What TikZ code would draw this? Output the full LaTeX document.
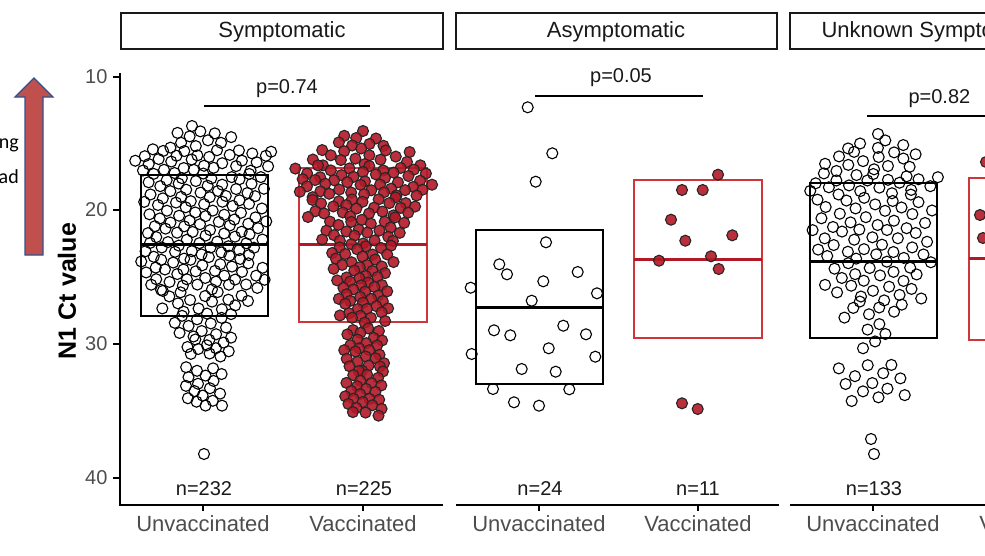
\documentclass[tikz,border=0pt]{standalone}
\usepackage{fontspec}
\setmainfont{Liberation Sans}
\newfontfamily\calibri{Carlito}
\usetikzlibrary{positioning,calc,arrows.meta}

\definecolor{vacred}{RGB}{178,24,38}
\definecolor{boxred}{RGB}{205,55,60}
\definecolor{axgray}{RGB}{77,77,77}
\definecolor{arrfill}{RGB}{192,80,77}
\definecolor{arredge}{RGB}{47,82,143}

\tikzset{
	opendot/.style={draw=black, line width=1.1pt},
	reddot/.style={draw=black!85, fill=vacred, fill opacity=0.9, line width=1.1pt},
	boxblack/.style={draw=black, line width=1.3pt},
	boxred/.style={draw=boxred, line width=1.3pt},
	medblack/.style={draw=black, line width=3pt},
	medred/.style={draw=vacred, line width=3pt},
	strip/.style={draw=black!90, line width=1.4pt},
	axline/.style={draw=black, line width=1.4pt},
	ticklab/.style={text=axgray, font=\fontsize{20}{24}\selectfont},
	catlab/.style={text=axgray, font=\fontsize{22}{26}\selectfont},
	striplab/.style={text=black!90, font=\fontsize{22}{26}\selectfont},
	nlab/.style={text=black!90, font=\fontsize{20}{24}\selectfont},
}

% spread points in horizontal bands: centre x, style, y0/y1/halfwidth/count
\newcommand\swarm[3]{%
	\foreach \ya/\yb/\hw/\cnt in {#3}{
		\pgfmathsetmacro\ph{rnd}
		\foreach \k in {1,...,\cnt}{
			\pgfmathsetmacro\px{#1+\hw*(2*mod(\k*0.618034+\ph,1)-1)+(rnd-0.5)*4}
			\pgfmathsetmacro\py{\ya+(\k-0.5)/\cnt*(\yb-\ya)+(rnd-0.5)*3}
			\draw[#2] (\px,\py) circle[radius=5.5pt];
		}
	}
}

\begin{document}
\begin{tikzpicture}[x=1pt, y=-1pt]
	\useasboundingbox (0,0) rectangle (985,555);
	\clip (0,0) rectangle (985,555);
	\pgfmathsetseed{17}

	% left annotation
	\draw[arredge, fill=arrfill, line width=1.2pt]
		(25,255) -- (43,255) -- (43,97) -- (53,97) -- (34,78) -- (15,97) -- (25,97) -- cycle;
	\node[anchor=east, inner sep=0pt, font=\calibri\fontsize{20}{24}\selectfont] (ngtxt) at (19,145) {ng};
	\node[anchor=east, inner sep=0pt, font=\calibri\fontsize{20}{24}\selectfont] (adtxt) at (19,177) {ad};

	% strips
	\draw[strip] (121,13) rectangle (443,49);
	\draw[strip] (456,13) rectangle (777,49);
	\draw[strip] (790,13) rectangle (995,49);
	\node[striplab] (stripSym) at (282,32) {Symptomatic};
	\node[striplab] (stripAsym) at (616,32) {Asymptomatic};
	\node[striplab, anchor=west] (stripUnk) at (818,32) {Unknown Symptoms};

	% y axis
	\draw[axline] (120,73) -- (120,505);
	\foreach \v/\yy in {10/77, 20/210, 30/344, 40/478}{
		\draw[axline] (113,\yy) -- (120,\yy);
		\node[ticklab, anchor=east] (ytick\v) at (111,\yy) {\v};
	}
	\node[rotate=90, font=\bfseries\fontsize{25}{30}\selectfont] (ylab) at (67,291) {N1 Ct value};

	% x axes
	\draw[axline] (119.3,505) -- (443,505);
	\draw[axline] (456,505) -- (779,505);
	\draw[axline] (790,505) -- (990,505);
	\foreach \xx/\lab/\nm in {203/Unvaccinated/a, 363/Vaccinated/b, 539/Unvaccinated/c,
			698/Vaccinated/d, 873/Unvaccinated/e, 1033/Vaccinated/f}{
		\draw[axline] (\xx,505) -- (\xx,511);
		\node[catlab] (xlab\nm) at (\xx,524) {\lab};
	}

	% counts
	\node[nlab] (nA) at (204,489) {n=232};
	\node[nlab] (nB) at (364,489) {n=225};
	\node[nlab] (nC) at (540,489) {n=24};
	\node[nlab] (nD) at (698,489) {n=11};
	\node[nlab] (nE) at (874,489) {n=133};

	% p values
	\coordinate (pSymL) at (204,106);
	\coordinate (pSymR) at (370,106);
	\draw[line width=1.4pt] (pSymL) -- (pSymR);
	\node[nlab] (pSym) at (287,89) {p=0.74};
	\coordinate (pAsymL) at (535,96);
	\coordinate (pAsymR) at (703,96);
	\draw[line width=1.4pt] (pAsymL) -- (pAsymR);
	\node[nlab] (pAsym) at (621,78) {p=0.05};
	\coordinate (pUnkL) at (867,116);
	\coordinate (pUnkR) at (1040,116);
	\draw[line width=1.4pt] (pUnkL) -- (pUnkR);
	\node[nlab, anchor=west] (pUnk) at (905,99) {p=0.82};

	% boxes
	\draw[boxblack] (141,175) rectangle (268,316);
	\draw[medblack] (141,244) -- (268,244);
	\draw[boxred] (299,168) rectangle (427,322);
	\draw[medred] (299,244) -- (427,244);
	\draw[boxblack] (476,230) rectangle (603,384);
	\draw[medblack] (476,307) -- (603,307);
	\draw[boxred] (634,180) rectangle (762,338);
	\draw[medred] (634,259) -- (762,259);
	\draw[boxblack] (810,183) rectangle (937,338);
	\draw[medblack] (810,261) -- (937,261);
	\draw[boxred] (969,178) rectangle (1097,340);
	\draw[medred] (969,258) -- (1097,258);

	% Symptomatic
	\draw[opendot] (192,126) circle[radius=5.5pt];
	\draw[opendot] (204,454) circle[radius=5.5pt];
	\swarm{204}{opendot}{130/148/33/10, 148/172/70/30, 172/258/61/95, 258/290/63/36,
		290/312/47/16, 312/340/31/15, 340/357/23/10, 365/408/20/18}
	\draw[reddot] (363,131) circle[radius=5.5pt];
	\swarm{363}{reddot}{134/148/25/7, 148/165/53/15, 165/197/69/46, 197/218/55/24,
		218/243/43/23, 243/270/32/20, 270/322/25/38, 328/370/22/25, 370/416/21/26}

	% Asymptomatic
	\foreach \px/\py in {527.7/107.3, 552.3/153.3, 535.7/181.7, 546/242.3, 499.3/264.3,
			507/274.3, 577.7/272, 543.3/281.3, 470.7/287.7, 597/293.3, 531.7/300.7,
			494/330.3, 510.3/335.3, 563.3/325.7, 586/334.3, 548.7/348.3, 471.7/354,
			595.3/356.7, 521.7/369, 555.7/371.7, 493/389, 569.3/389.3, 514/402.3, 539/405.7}
		\draw[opendot] (\px,\py) circle[radius=5.5pt];
	\foreach \px/\py in {718/174.7, 682/190, 702.7/190, 671/219.7, 732.3/235.3, 685.3/240.7,
			659/260.7, 711/256.3, 718.7/269, 682/403.3, 697.7/409}
		\draw[reddot] (\px,\py) circle[radius=5.5pt];

	% Unknown symptoms
	\draw[opendot] (878,134) circle[radius=5.5pt];
	\draw[opendot] (871,439) circle[radius=5.5pt];
	\draw[opendot] (874,454) circle[radius=5.5pt];
	\swarm{874}{opendot}{139/152/35/6, 152/172/50/12, 172/195/67/20, 195/262/61/45,
		262/300/50/22, 300/318/33/7, 320/350/14/5, 362/402/35/13}
	\foreach \px/\py in {986/162, 980/215, 983/238}
		\draw[reddot] (\px,\py) circle[radius=5.5pt];
\end{tikzpicture}
\end{document}
